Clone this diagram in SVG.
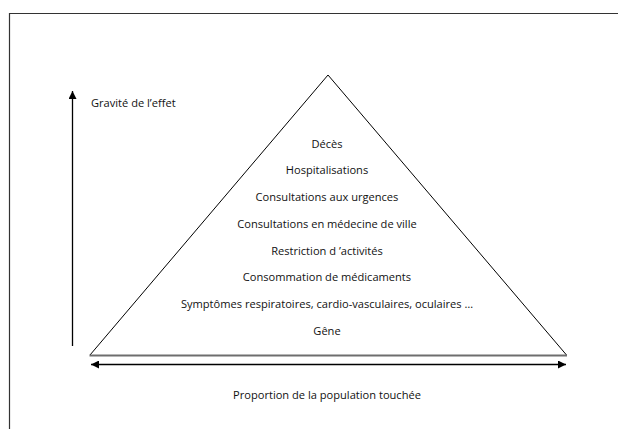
<svg xmlns="http://www.w3.org/2000/svg" width="618" height="429" viewBox="0 0 618 429">
<style>
.t{font-family:"Open Sans","Liberation Sans",sans-serif;font-size:11.1px;fill:#111;text-anchor:middle}
.tl{font-family:"Open Sans","Liberation Sans",sans-serif;font-size:11.1px;fill:#111}
.ln{stroke:#000;stroke-width:1;fill:none}
</style>
<defs>
<marker id="ah" viewBox="0 0 10 10" refX="10" refY="5" markerWidth="8" markerHeight="8" markerUnits="userSpaceOnUse" orient="auto-start-reverse">
<path d="M0,0 L10,5 L0,10 z" fill="#000"/>
</marker>
</defs>
<rect width="618" height="429" fill="#fff"/>
<path d="M9.5,430 V13.5 H619" fill="none" stroke="#333" stroke-width="1.2"/>
<g id="pyramid">
<path class="ln" d="M90,355 L328,75 L566.5,355"/>
<line x1="89.5" y1="355.5" x2="567" y2="355.5" stroke="#6e6e6e" stroke-width="2"/>
</g>
<g id="connectors">
<line x1="72.5" y1="346" x2="72.5" y2="91" stroke="#000" stroke-width="1.3" marker-end="url(#ah)"/>
<line x1="91" y1="364.5" x2="566" y2="364.5" stroke="#000" stroke-width="1.5" marker-start="url(#ah)" marker-end="url(#ah)"/>
</g>
<g id="axis-y"><text class="tl" x="91" y="107">Gravité de l’effet</text></g>
<g id="levels">
<text class="t" x="327" y="147.5">Décès</text>
<text class="t" x="327" y="174">Hospitalisations</text>
<text class="t" x="327" y="201">Consultations aux urgences</text>
<text class="t" x="327" y="228">Consultations en médecine de ville</text>
<text class="t" x="327" y="254.5">Restriction d ’activités</text>
<text class="t" x="327" y="281">Consommation de médicaments</text>
<text class="t" x="327" y="308">Symptômes respiratoires, cardio-vasculaires, oculaires …</text>
<text class="t" x="327" y="334.5">Gêne</text>
</g>
<g id="axis-x"><text class="t" x="327" y="398.5">Proportion de la population touchée</text></g>
</svg>
